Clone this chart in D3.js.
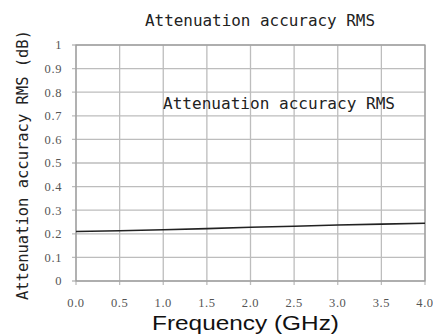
<!DOCTYPE html>
<html>
<head>
<meta charset="utf-8">
<script src="https://cdn.jsdelivr.net/npm/d3@7"></script>
<style>
  body { margin: 0; background: #fff; }
  svg { display: block; }
</style>
</head>
<body>
<svg id="chart"></svg>
<script>
// series
const freqs = [0.0, 0.5, 1.0, 1.5, 2.0, 2.5, 3.0, 3.5, 4.0];
const rms = [0.210, 0.213, 0.217, 0.222, 0.228, 0.232, 0.237, 0.241, 0.245];
const xTicks = [0, 0.5, 1, 1.5, 2, 2.5, 3, 3.5, 4];
const yTicks = [0, 0.1, 0.2, 0.3, 0.4, 0.5, 0.6, 0.7, 0.8, 0.9, 1];

const W = 433, H = 336;
const margin = {top: 45, right: 8, bottom: 55, left: 76};
const width = W - margin.left - margin.right;
const height = H - margin.top - margin.bottom;

const svg = d3.select('#chart').attr('width', W).attr('height', H);
const g = svg.append('g').attr('transform', `translate(${margin.left},${margin.top})`);

const x = d3.scaleLinear().domain([0, 4]).range([0, width]);
const y = d3.scaleLinear().domain([0, 1]).range([height, 0]);

// grid
g.append('g').selectAll('line').data(yTicks).enter().append('line')
    .attr('x1', -4).attr('x2', width)
    .attr('y1', d => y(d)).attr('y2', d => y(d))
    .attr('stroke', '#bdbdbd').attr('stroke-width', 1.3);
g.append('g').selectAll('line').data(xTicks).enter().append('line')
    .attr('x1', d => x(d)).attr('x2', d => x(d))
    .attr('y1', 0).attr('y2', height + 4)
    .attr('stroke', '#bdbdbd').attr('stroke-width', 1.3);

// frame
g.append('rect').attr('width', width).attr('height', height)
    .attr('fill', 'none').attr('stroke', '#9a9a9a').attr('stroke-width', 1.2);

// tick labels
const serif = '"Liberation Serif", "DejaVu Serif", serif';
g.append('g').selectAll('text').data(yTicks).enter().append('text')
    .attr('x', -14).attr('y', d => y(d)).attr('dy', '0.35em')
    .attr('text-anchor', 'end')
    .attr('font-family', serif).attr('font-size', 12.5).attr('letter-spacing', 0.6)
    .attr('fill', '#555')
    .text(d => d === 0 || d === 1 ? d : d.toFixed(1));
g.append('g').selectAll('text').data(xTicks).enter().append('text')
    .attr('x', d => x(d)).attr('y', height + 22).attr('dy', '0.35em')
    .attr('text-anchor', 'middle')
    .attr('font-family', serif).attr('font-size', 12.5).attr('letter-spacing', 0.6)
    .attr('fill', '#555')
    .text(d => d.toFixed(1));

// data line
const line = d3.line().x((d, i) => x(freqs[i])).y(d => y(d));
g.append('path').datum(rms)
    .attr('fill', 'none').attr('stroke', '#222').attr('stroke-width', 1.6)
    .attr('d', line);

// texts
const mono = '"DejaVu Sans Mono", monospace';
svg.append('text').attr('x', 145).attr('y', 26)
    .attr('font-family', mono).attr('font-size', 16).attr('fill', '#222')
    .attr('textLength', 230).attr('lengthAdjust', 'spacingAndGlyphs')
    .text('Attenuation accuracy RMS');
svg.append('text').attr('x', 163).attr('y', 109)
    .attr('font-family', mono).attr('font-size', 16).attr('fill', '#222')
    .attr('textLength', 232).attr('lengthAdjust', 'spacingAndGlyphs')
    .text('Attenuation accuracy RMS');
svg.append('text')
    .attr('transform', 'translate(28,165) rotate(-90)')
    .attr('text-anchor', 'middle')
    .attr('font-family', mono).attr('font-size', 16).attr('fill', '#222')
    .attr('textLength', 270).attr('lengthAdjust', 'spacingAndGlyphs')
    .text('Attenuation accuracy RMS (dB)');
svg.append('text').attr('x', 152).attr('y', 330)
    .attr('font-family', '"Liberation Sans", Arial, sans-serif').attr('font-size', 20)
    .attr('fill', '#111')
    .attr('textLength', 187).attr('lengthAdjust', 'spacingAndGlyphs')
    .text('Frequency (GHz)');
</script>
</body>
</html>
